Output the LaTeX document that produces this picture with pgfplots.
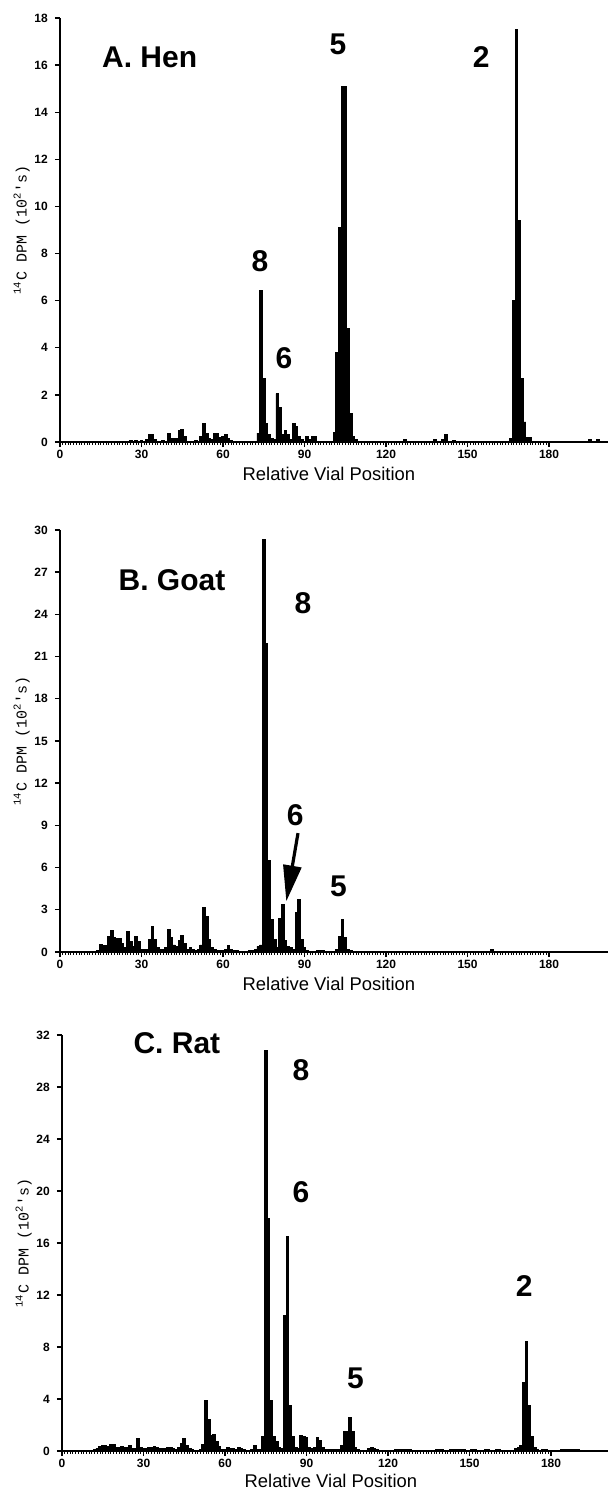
\documentclass[border=0pt]{standalone}
\usepackage{fontspec}
\setmainfont{Liberation Sans}
\setmonofont{Liberation Mono}
\usepackage{pgfplots}
\pgfplotsset{compat=1.18}
\usetikzlibrary{arrows.meta}
\tikzset{lab/.style={font=\fontsize{15}{15}\selectfont\bfseries, inner sep=0pt}}
\pgfplotsset{
 vbar/.style={ybar, bar width=1, bar shift=0pt, fill=black, draw=black, line width=0.45pt, mark=none},
 vialaxis/.style={
  scale only axis, width=274.4pt,
  axis lines=left, axis line style={line width=0.9pt,-},
  xmin=0, xmax=202, ymin=0,
  xtick={0,30,...,180}, minor x tick num=29,
  tick align=outside, major tick length=2.6pt, minor tick length=1.4pt,
  tick style={line width=0.7pt, black},
  minor tick style={line width=0.45pt, black},
  ticklabel style={font=\fontsize{6}{6}\selectfont\bfseries},
  xticklabel style={inner sep=1.2pt},
  /pgf/number format/assume math mode=true,
  xlabel={Relative Vial Position},
  xlabel style={font=\fontsize{9.2}{10}\selectfont, at={(axis description cs:0.49,-0.075)}, anchor=center},
  ylabel={\ttfamily\textsuperscript{14}C DPM (10\textsuperscript{2}'s)},
  ylabel style={font=\fontsize{7.5}{7.5}\selectfont, at={(axis description cs:-0.07,0.5)}, anchor=center},
  clip=false,
 }
}
\begin{document}
\begin{tikzpicture}
\useasboundingbox (0,0) rectangle (304pt,748.5pt);
% ---------------- A. Hen
\begin{axis}[vialaxis, at={(30pt,527.5pt)}, anchor=south west, height=212pt, ymax=18, ytick={0,2,...,18}]
\addplot[vbar] coordinates {(26,0.05)(28,0.05)(30,0.08)(32,0.1)(33,0.3)(34,0.3)(35,0.1)(38,0.05)(40,0.35)(41,0.15)(42,0.15)(43,0.15)(44,0.5)(45,0.55)(46,0.25)(50,0.05)(52,0.25)(53,0.8)(54,0.35)(55,0.15)(56,0.1)(57,0.35)(58,0.35)(59,0.2)(60,0.25)(61,0.3)(62,0.15)(63,0.05)
(73,0.38)(74,6.45)(75,2.7)(76,0.8)(77,0.3)(78,0.15)(79,0.1)(80,2.05)(81,1.48)(82,0.3)(83,0.5)(84,0.3)(85,0.1)(86,0.8)(87,0.65)(88,0.25)(89,0.1)(91,0.25)(92,0.1)(93,0.25)(94,0.25)
(101,0.4)(102,3.8)(103,9.1)(104,15.1)(105,15.1)(106,4.8)(107,1.2)(108,0.25)(109,0.1)
(127,0.1)(138,0.1)(141,0.1)(142,0.3)(145,0.08)
(166,0.15)(167,6.0)(168,17.5)(169,9.4)(170,2.7)(171,0.85)(172,0.2)(173,0.2)(195,0.1)(198,0.1)};
\node[lab] at (axis cs:33,16.35) {A. Hen};
\node[lab] at (axis cs:102.3,16.9) {5};
\node[lab] at (axis cs:155,16.35) {2};
\node[lab] at (axis cs:73.6,7.67) {8};
\node[lab] at (axis cs:82.4,3.56) {6};
\end{axis}
% ---------------- B. Goat
\begin{axis}[vialaxis, at={(30pt,272.5pt)}, anchor=south west, height=211pt, ymax=30, ytick={0,3,...,30}]
\addplot[vbar] coordinates {(5,0.05)(10,0.05)(14,0.1)(15,0.55)(16,0.45)(17,0.45)(18,1.1)(19,1.5)(20,1.0)(21,0.95)(22,0.95)(23,0.6)(24,0.3)(25,1.45)(26,0.75)(27,0.4)(28,1.1)(29,0.75)(30,0.2)(31,0.2)(32,0.2)(33,0.9)(34,1.8)(35,0.9)(36,0.3)(37,0.2)(38,0.2)(39,0.3)(40,1.6)(41,1.0)(42,0.5)(43,0.4)(44,0.85)(45,1.2)(46,0.6)(47,0.2)(48,0.35)(49,0.2)(50,0.1)(51,0.15)(52,0.5)(53,3.15)(54,2.5)(55,0.9)(56,0.3)(57,0.2)(58,0.1)(59,0.1)(60,0.1)(61,0.2)(62,0.45)(63,0.2)(64,0.1)(65,0.08)(66,0.05)(67,0.05)(68,0.05)(69,0.05)(70,0.1)(71,0.1)(72,0.2)(73,0.4)(74,0.5)
(75,29.3)(76,21.9)(77,6.5)(78,2.3)(79,0.9)(80,0.3)(81,2.4)(82,3.4)(83,0.8)(84,0.4)(85,0.3)(86,0.2)(87,2.8)(88,3.7)(89,0.9)(90,0.3)(91,0.1)(92,0.05)(95,0.1)(96,0.1)(97,0.1)(98,0.05)
(102,0.2)(103,1.1)(104,2.3)(105,1.0)(106,0.2)(107,0.1)(159,0.15)};
\node[lab] at (axis cs:41.2,26.4) {B. Goat};
\node[lab] at (axis cs:89.4,24.8) {8};
\node[lab] at (axis cs:86.6,9.7) {6};
\node[lab] at (axis cs:102.5,4.67) {5};
\draw[line width=1.6pt, -{Triangle[length=18pt,width=9pt]}] (axis cs:87.6,8.45) -- (axis cs:83.3,3.6);
\end{axis}
% ---------------- C. Rat
\begin{axis}[vialaxis, at={(31pt,23pt)}, anchor=south west, height=208pt, ymax=32, ytick={0,4,...,32},
  xlabel style={at={(axis description cs:0.49,-0.073)}}]
\addplot[vbar] coordinates {(12,0.1)(13,0.2)(14,0.35)(15,0.4)(16,0.4)(17,0.35)(18,0.5)(19,0.5)(20,0.3)(21,0.3)(22,0.35)(23,0.3)(24,0.3)(25,0.4)(26,0.2)(27,0.2)(28,0.95)(29,0.3)(30,0.2)(31,0.2)(32,0.25)(33,0.3)(34,0.35)(35,0.3)(36,0.2)(37,0.2)(38,0.2)(39,0.3)(40,0.3)(41,0.2)(42,0.1)(43,0.3)(44,0.6)(45,0.95)(46,0.4)(47,0.2)(48,0.1)(49,0.05)(50,0.05)(51,0.1)(52,0.5)(53,3.85)(54,2.4)(55,1.2)(56,1.3)(57,0.7)(58,0.35)(59,0.15)(60,0.1)(61,0.3)(62,0.2)(63,0.2)(64,0.1)(65,0.3)(66,0.2)(67,0.1)(68,0.05)(69,0.05)(70,0.1)(71,0.4)(72,0.1)(73,0.1)
(74,1.1)(75,30.8)(76,17.9)(77,3.85)(78,1.1)(79,0.7)(80,0.3)(81,0.2)(82,10.4)(83,16.5)(84,3.5)(85,1.1)(86,0.3)(87,0.2)(88,1.2)(89,1.1)(90,1.05)(91,0.3)(92,0.2)(93,0.3)(94,1.05)(95,0.8)(96,0.3)(97,0.15)(98,0.15)(99,0.15)(100,0.15)(101,0.15)(102,0.1)
(103,0.4)(104,1.5)(105,1.5)(106,2.6)(107,1.5)(108,0.3)(109,0.15)(113,0.2)(114,0.25)(115,0.2)(116,0.1)
(123,0.15)(124,0.15)(125,0.15)(126,0.15)(127,0.15)(128,0.15)(138,0.15)(139,0.15)(140,0.15)(143,0.15)(144,0.15)(145,0.15)(146,0.15)(147,0.15)(148,0.15)(151,0.15)(152,0.15)(156,0.15)(157,0.15)(160,0.15)(161,0.15)
(167,0.2)(168,0.3)(169,0.4)(170,5.3)(171,8.4)(172,3.5)(173,1.1)(174,0.25)(175,0.1)(177,0.15)(178,0.15)(184,0.15)(185,0.15)(186,0.15)(187,0.15)(188,0.15)(189,0.15)(190,0.15)};
\node[lab] at (axis cs:42.3,31.4) {C. Rat};
\node[lab] at (axis cs:88,29.3) {8};
\node[lab] at (axis cs:88,19.9) {6};
\node[lab] at (axis cs:108,5.57) {5};
\node[lab] at (axis cs:170.1,12.7) {2};
\end{axis}
\end{tikzpicture}
\end{document}
